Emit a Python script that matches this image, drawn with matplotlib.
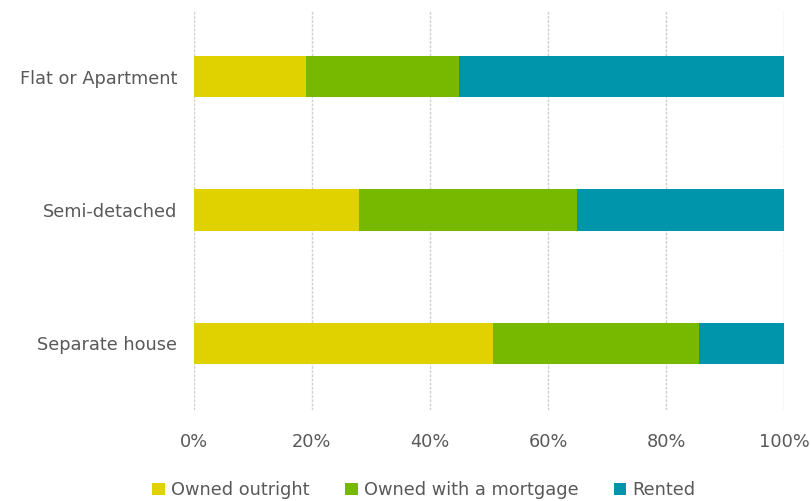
import numpy as np
import matplotlib.pyplot as plt
from matplotlib.ticker import PercentFormatter

# data (percent of dwellings)
categories = ["Separate house", "Semi-detached", "Flat or Apartment"]
owned_outright = [50.7, 28.0, 19.0]
owned_mortgage = [34.9, 36.9, 25.9]
rented = [14.4, 35.1, 55.1]
series_names = ["Owned outright", "Owned with a mortgage", "Rented"]
colors = ["#E0D100", "#77B800", "#0095AB"]
ticks = [0, 20, 40, 60, 80, 100]

fig = plt.figure(figsize=(8.11, 5.01), dpi=100)
ax = fig.add_axes([0.239, 0.182, 0.728, 0.798])

y = np.arange(len(categories))
left = np.zeros(len(categories))
for vals, name, c in zip([owned_outright, owned_mortgage, rented], series_names, colors):
    ax.barh(y, vals, left=left, height=0.31, color=c, label=name, zorder=3)
    left += np.array(vals)

ax.set_xlim(0, 100)
ax.set_ylim(-0.5, 2.5)
ax.set_yticks(y)
ax.set_yticklabels(categories)
ax.set_xticks(ticks)
ax.xaxis.set_major_formatter(PercentFormatter(decimals=0))
ax.grid(axis="x", color="#D0D0D0", linestyle=(0, (2, 1)), linewidth=1.0, zorder=0)
for s in ax.spines.values():
    s.set_visible(False)
ax.tick_params(axis="both", length=0, colors="#595959", labelsize=12.8)
ax.tick_params(axis="y", pad=12)
ax.tick_params(axis="x", pad=17)

fig.legend(loc="lower center", bbox_to_anchor=(0.523, -0.028), ncol=3, frameon=False,
           fontsize=12.8, handlelength=0.7, handleheight=0.7, handletextpad=0.35,
           columnspacing=2.0, labelcolor="#595959")

fig.savefig("out.png", dpi=100)
